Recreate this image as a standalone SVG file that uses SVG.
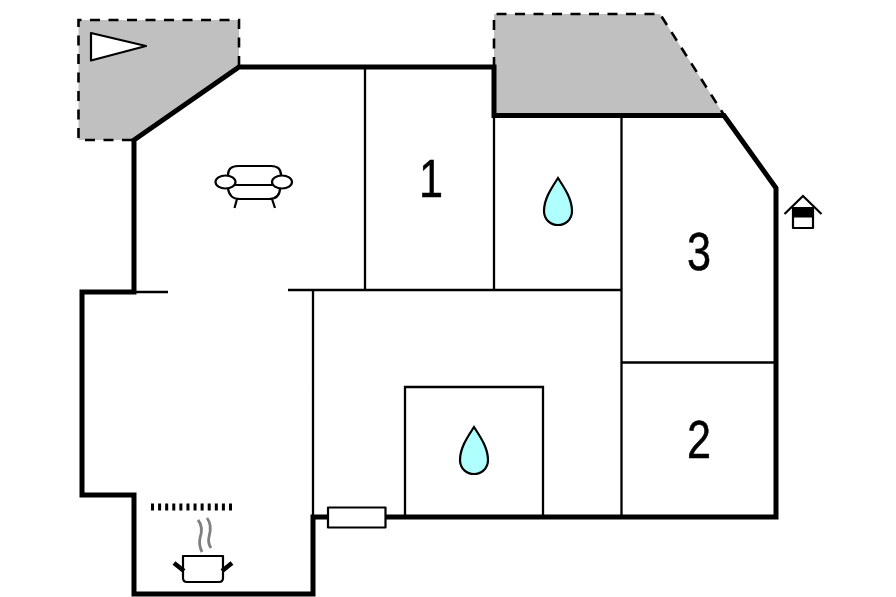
<svg xmlns="http://www.w3.org/2000/svg" width="896" height="597" viewBox="0 0 896 597">
<style>
.terrace{fill:#c0c0c0;stroke:none}
.dash{fill:none;stroke:#000;stroke-width:2.6;stroke-dasharray:10 8.5}
.wall{fill:none;stroke:#000;stroke-width:5;stroke-linejoin:miter}
.thin{fill:none;stroke:#000;stroke-width:2.3}
.sym{fill:#fff;stroke:#000;stroke-width:2.2;stroke-linejoin:round}
.line{fill:none;stroke:#000;stroke-width:2.2}
.drop{fill:#b0ffff;stroke:#000;stroke-width:2.2}
.num{font-family:"Liberation Sans",Arial,sans-serif;font-size:54px;fill:#000;stroke:#000;stroke-width:.5;text-anchor:middle}
</style>
<defs>
<path id="dropShape" d="M0 0C5 8 14 20 14 33C14 42 7 47 0 47C-7 47 -14 42 -14 33C-14 20 -5 8 0 0Z"/>
</defs>
<rect width="896" height="597" fill="#fff"/>
<g id="terrace-nw">
<polygon class="terrace" points="78.500,20 239,20 239,67 134,140 78.500,140"/>
<path class="dash" d="M239 66V20H78.500V140H134"/>
<polygon class="sym" points="91,33 146,46 91,60.500"/>
</g>
<g id="terrace-ne">
<polygon class="terrace" points="494,14 660,14 724,115 494,115"/>
<path class="dash" d="M494 67V14H660L724 115"/>
</g>
<g id="walls">
<path class="wall" d="M239 67H494V115.500H724L776 188V517H313V594H134V495H82V292H134V140L239 67Z"/>
<path class="thin" d="M134 292H168M288 290H621.500M365 67V290M494 115V290M621.500 115V517M313 290V517M621.500 362.500H776M405 517V387H543V517"/>
</g>
<g id="window">
<rect class="sym" x="328" y="507.500" width="57.500" height="20"/>
</g>
<g id="sofa">
<path class="line" d="M228 177V175Q228 166 238 166H271Q281 166 281 175V177M234 185H274M228 188Q229 199 240 199H269Q280 199 280 188M237 199L234.500 208M272 199L275 208"/>
<ellipse class="sym" cx="225.500" cy="182" rx="10" ry="6.500"/>
<ellipse class="sym" cx="282" cy="182" rx="10" ry="6.500"/>
</g>
<g id="room-1"><text class="num" transform="translate(431 197) scale(.8 1)">1</text></g>
<g id="room-2"><text class="num" transform="translate(699 458) scale(.8 1)">2</text></g>
<g id="room-3"><text class="num" transform="translate(699 270) scale(.8 1)">3</text></g>
<g id="bath-1"><use href="#dropShape" class="drop" x="558" y="178"/></g>
<g id="bath-2"><use href="#dropShape" class="drop" x="474" y="427"/></g>
<g id="entrance">
<path class="line" d="M784.500 214L803 196L821.500 214"/>
<rect class="sym" x="793" y="208" width="20" height="20"/>
<rect x="793" y="208" width="20" height="9.500" fill="#000"/>
</g>
<g id="kitchen">
<path d="M151 507H232" fill="none" stroke="#000" stroke-width="7" stroke-dasharray="3 4.090"/>
<path d="M198 520C203 526 202 532 200 538C199 543 200 548 202 552M207 518C211 523 211 530 209 537C208 541 209 545 211 548" fill="none" stroke="#808080" stroke-width="2.800"/>
<path class="sym" d="M183 556H223V578Q223 582 219 582H187Q183 582 183 578Z"/>
<path d="M174 563L184 571M232 563L222 571" fill="none" stroke="#000" stroke-width="4.500"/>
</g>
</svg>
